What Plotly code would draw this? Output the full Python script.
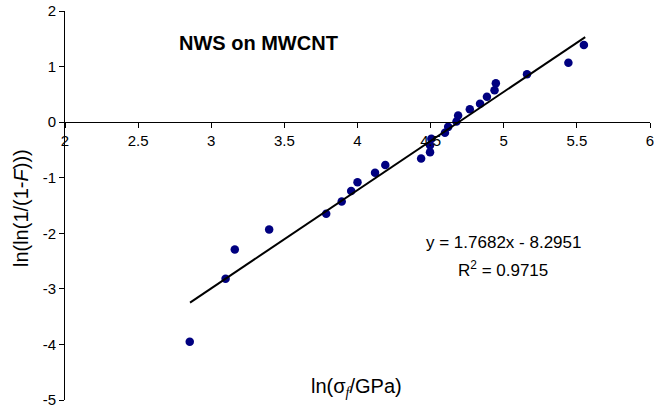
import plotly.graph_objects as go

# Data
ln_sigma = [2.853, 3.098, 3.161, 3.396, 3.786, 3.892, 3.957, 4.000, 4.120, 4.190,
            4.435, 4.496, 4.496, 4.505, 4.598, 4.620, 4.677, 4.688, 4.768, 4.838,
            4.885, 4.937, 4.946, 5.159, 5.442, 5.548]
ln_ln_F = [-3.95, -2.82, -2.29, -1.93, -1.65, -1.43, -1.24, -1.08, -0.91, -0.77,
           -0.655, -0.54, -0.415, -0.30, -0.19, -0.085, 0.01, 0.12, 0.23, 0.33,
           0.455, 0.575, 0.70, 0.86, 1.07, 1.39]

slope = 1.7682
intercept = -8.2951
r2 = 0.9715
fit_x = [2.855, 5.557]
fit_y = [slope * v + intercept for v in fit_x]

x_ticks = [2, 2.5, 3, 3.5, 4, 4.5, 5, 5.5, 6]
x_labels = ["2", "2.5", "3", "3.5", "4", "4.5", "5", "5.5", "6"]
y_ticks = [-5, -4, -3, -2, -1, 0, 1, 2]
y_labels = ["-5", "-4", "-3", "-2", "-1", "0", "1", "2"]

fig = go.Figure()
fig.add_trace(go.Scatter(x=ln_sigma, y=ln_ln_F, mode="markers",
                         marker=dict(color="#000080", size=8.5),
                         showlegend=False))
fig.add_trace(go.Scatter(x=fit_x, y=fit_y, mode="lines",
                         line=dict(color="black", width=2),
                         showlegend=False))

font_main = "Liberation Sans, Arial, sans-serif"


def px(xw):
    return (xw - 65) / 589


def py(yw):
    return 1 - (yw - 11) / 389.5


fig.update_layout(
    width=654, height=414,
    margin=dict(l=65, r=0, t=11, b=13.5),
    paper_bgcolor="white", plot_bgcolor="white",
    font=dict(family=font_main, color="black", size=15),
    xaxis=dict(range=[2, 6], tickvals=x_ticks, ticktext=x_labels,
               showgrid=False, zeroline=False, showline=True, linecolor="black",
               linewidth=1, ticks="outside", ticklen=5, tickcolor="black",
               anchor="free", position=5/7, side="bottom",
               ticklabeloverflow="allow", tickfont=dict(size=15)),
    yaxis=dict(range=[-5, 2], tickvals=y_ticks, ticktext=y_labels,
               showgrid=False, zeroline=False,
               showline=True, linecolor="black", linewidth=1, ticks="outside",
               ticklen=5, tickcolor="black", ticklabeloverflow="allow",
               tickfont=dict(size=15)),
    annotations=[
        dict(text="<b>NWS on MWCNT</b>", x=px(260), y=py(43),
             xref="paper", yref="paper", showarrow=False,
             xanchor="center", yanchor="middle",
             font=dict(size=20, family=font_main)),
        dict(text=f"y = {slope}x - {abs(intercept)}", x=px(506), y=py(243),
             xref="paper", yref="paper", showarrow=False,
             xanchor="center", yanchor="middle", font=dict(size=17)),
        dict(text=f"R<sup>2</sup> = {r2}", x=px(506), y=py(269),
             xref="paper", yref="paper", showarrow=False,
             xanchor="center", yanchor="middle", font=dict(size=17)),
        dict(text="ln(σ<sub><span style='font-family:Liberation Serif'><i>f</i></span></sub>/GPa)",
             x=px(358), y=py(388), xref="paper", yref="paper",
             xanchor="center", yanchor="middle",
             showarrow=False, font=dict(size=20)),
        dict(text="ln(ln(1/(1-<i>F</i>)))", x=px(20), y=py(208),
             xref="paper", yref="paper", showarrow=False, textangle=-90,
             xanchor="center", yanchor="middle",
             font=dict(size=20)),
    ],
)

fig.write_html("out.html", config={"displayModeBar": False},
               post_script="document.body.style.margin='0';")
